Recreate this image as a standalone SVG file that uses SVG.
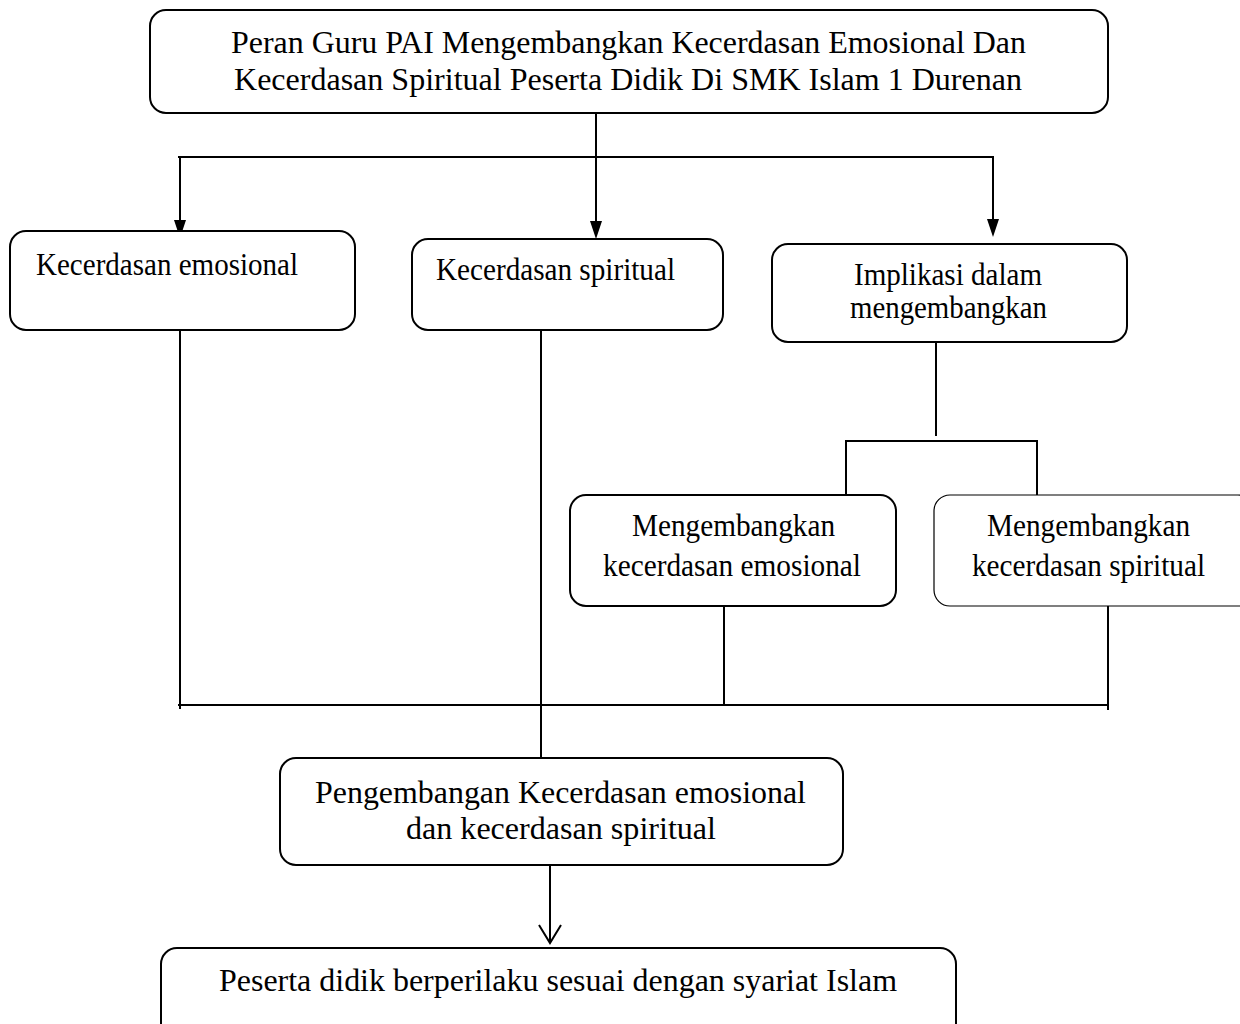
<svg xmlns="http://www.w3.org/2000/svg" width="1240" height="1024" viewBox="0 0 1240 1024">
<style>
.box{fill:#fff;stroke:#000;stroke-width:2}
.thin{fill:#fff;stroke:#000;stroke-width:1.2}
.c{fill:none;stroke:#000;stroke-width:2}
</style>
<rect width="1240" height="1024" fill="#fff"/>
<g id="connectors">
<line class="c" x1="596" y1="113" x2="596" y2="222"/>
<path d="M590,221 L602,221 L596,239 Z" fill="#000"/>
<line class="c" x1="178" y1="157" x2="994" y2="157"/>
<line class="c" x1="180" y1="157" x2="180" y2="221"/>
<path d="M174,220 L186,220 L180,238 Z" fill="#000"/>
<line class="c" x1="993" y1="157" x2="993" y2="220"/>
<path d="M987,219 L999,219 L993,237 Z" fill="#000"/>
<line class="c" x1="936" y1="342" x2="936" y2="436"/>
<polyline class="c" points="846,495 846,441 1037,441 1037,495"/>
<line class="c" x1="180" y1="330" x2="180" y2="709"/>
<line class="c" x1="541" y1="330" x2="541" y2="758"/>
<line class="c" x1="724" y1="606" x2="724" y2="705"/>
<line class="c" x1="1108" y1="606" x2="1108" y2="710"/>
<line class="c" x1="178" y1="705" x2="1109" y2="705"/>
<line class="c" x1="550" y1="865" x2="550" y2="942"/>
<polyline class="c" points="539,925 550,943 561,925"/>
</g>
<g font-family="Liberation Serif, Times New Roman, serif" font-size="31" fill="#000">
<g id="n0">
<rect class="box" x="150" y="10" width="958" height="103" rx="16"/>
<text x="231" y="53" textLength="795" lengthAdjust="spacingAndGlyphs">Peran Guru PAI Mengembangkan Kecerdasan Emosional Dan</text>
<text x="234" y="90" textLength="788" lengthAdjust="spacingAndGlyphs">Kecerdasan Spiritual Peserta Didik Di SMK Islam 1 Durenan</text>
</g>
<g id="n1">
<rect class="box" x="10" y="231" width="345" height="99" rx="16"/>
<text x="36" y="275" textLength="262" lengthAdjust="spacingAndGlyphs">Kecerdasan emosional</text>
</g>
<g id="n2">
<rect class="box" x="412" y="239" width="311" height="91" rx="16"/>
<text x="436" y="280" textLength="239" lengthAdjust="spacingAndGlyphs">Kecerdasan spiritual</text>
</g>
<g id="n3">
<rect class="box" x="772" y="244" width="355" height="98" rx="16"/>
<text x="854" y="285" textLength="188" lengthAdjust="spacingAndGlyphs">Implikasi dalam</text>
<text x="850" y="318" textLength="197" lengthAdjust="spacingAndGlyphs">mengembangkan</text>
</g>
<g id="n4">
<rect class="box" x="570" y="495" width="326" height="111" rx="16"/>
<text x="632" y="536" textLength="203" lengthAdjust="spacingAndGlyphs">Mengembangkan</text>
<text x="603" y="576" textLength="258" lengthAdjust="spacingAndGlyphs">kecerdasan emosional</text>
</g>
<g id="n5">
<rect class="thin" x="934" y="495" width="320" height="111" rx="16"/>
<text x="987" y="536" textLength="203" lengthAdjust="spacingAndGlyphs">Mengembangkan</text>
<text x="972" y="576" textLength="233" lengthAdjust="spacingAndGlyphs">kecerdasan spiritual</text>
</g>
<g id="n6">
<rect class="box" x="280" y="758" width="563" height="107" rx="16"/>
<text x="315" y="803" textLength="491" lengthAdjust="spacingAndGlyphs">Pengembangan Kecerdasan emosional</text>
<text x="406" y="839" textLength="310" lengthAdjust="spacingAndGlyphs">dan kecerdasan spiritual</text>
</g>
<g id="n7">
<rect class="box" x="161" y="948" width="795" height="100" rx="16"/>
<text x="219" y="991" textLength="678" lengthAdjust="spacingAndGlyphs">Peserta didik berperilaku sesuai dengan syariat Islam</text>
</g>
</g>
</svg>
